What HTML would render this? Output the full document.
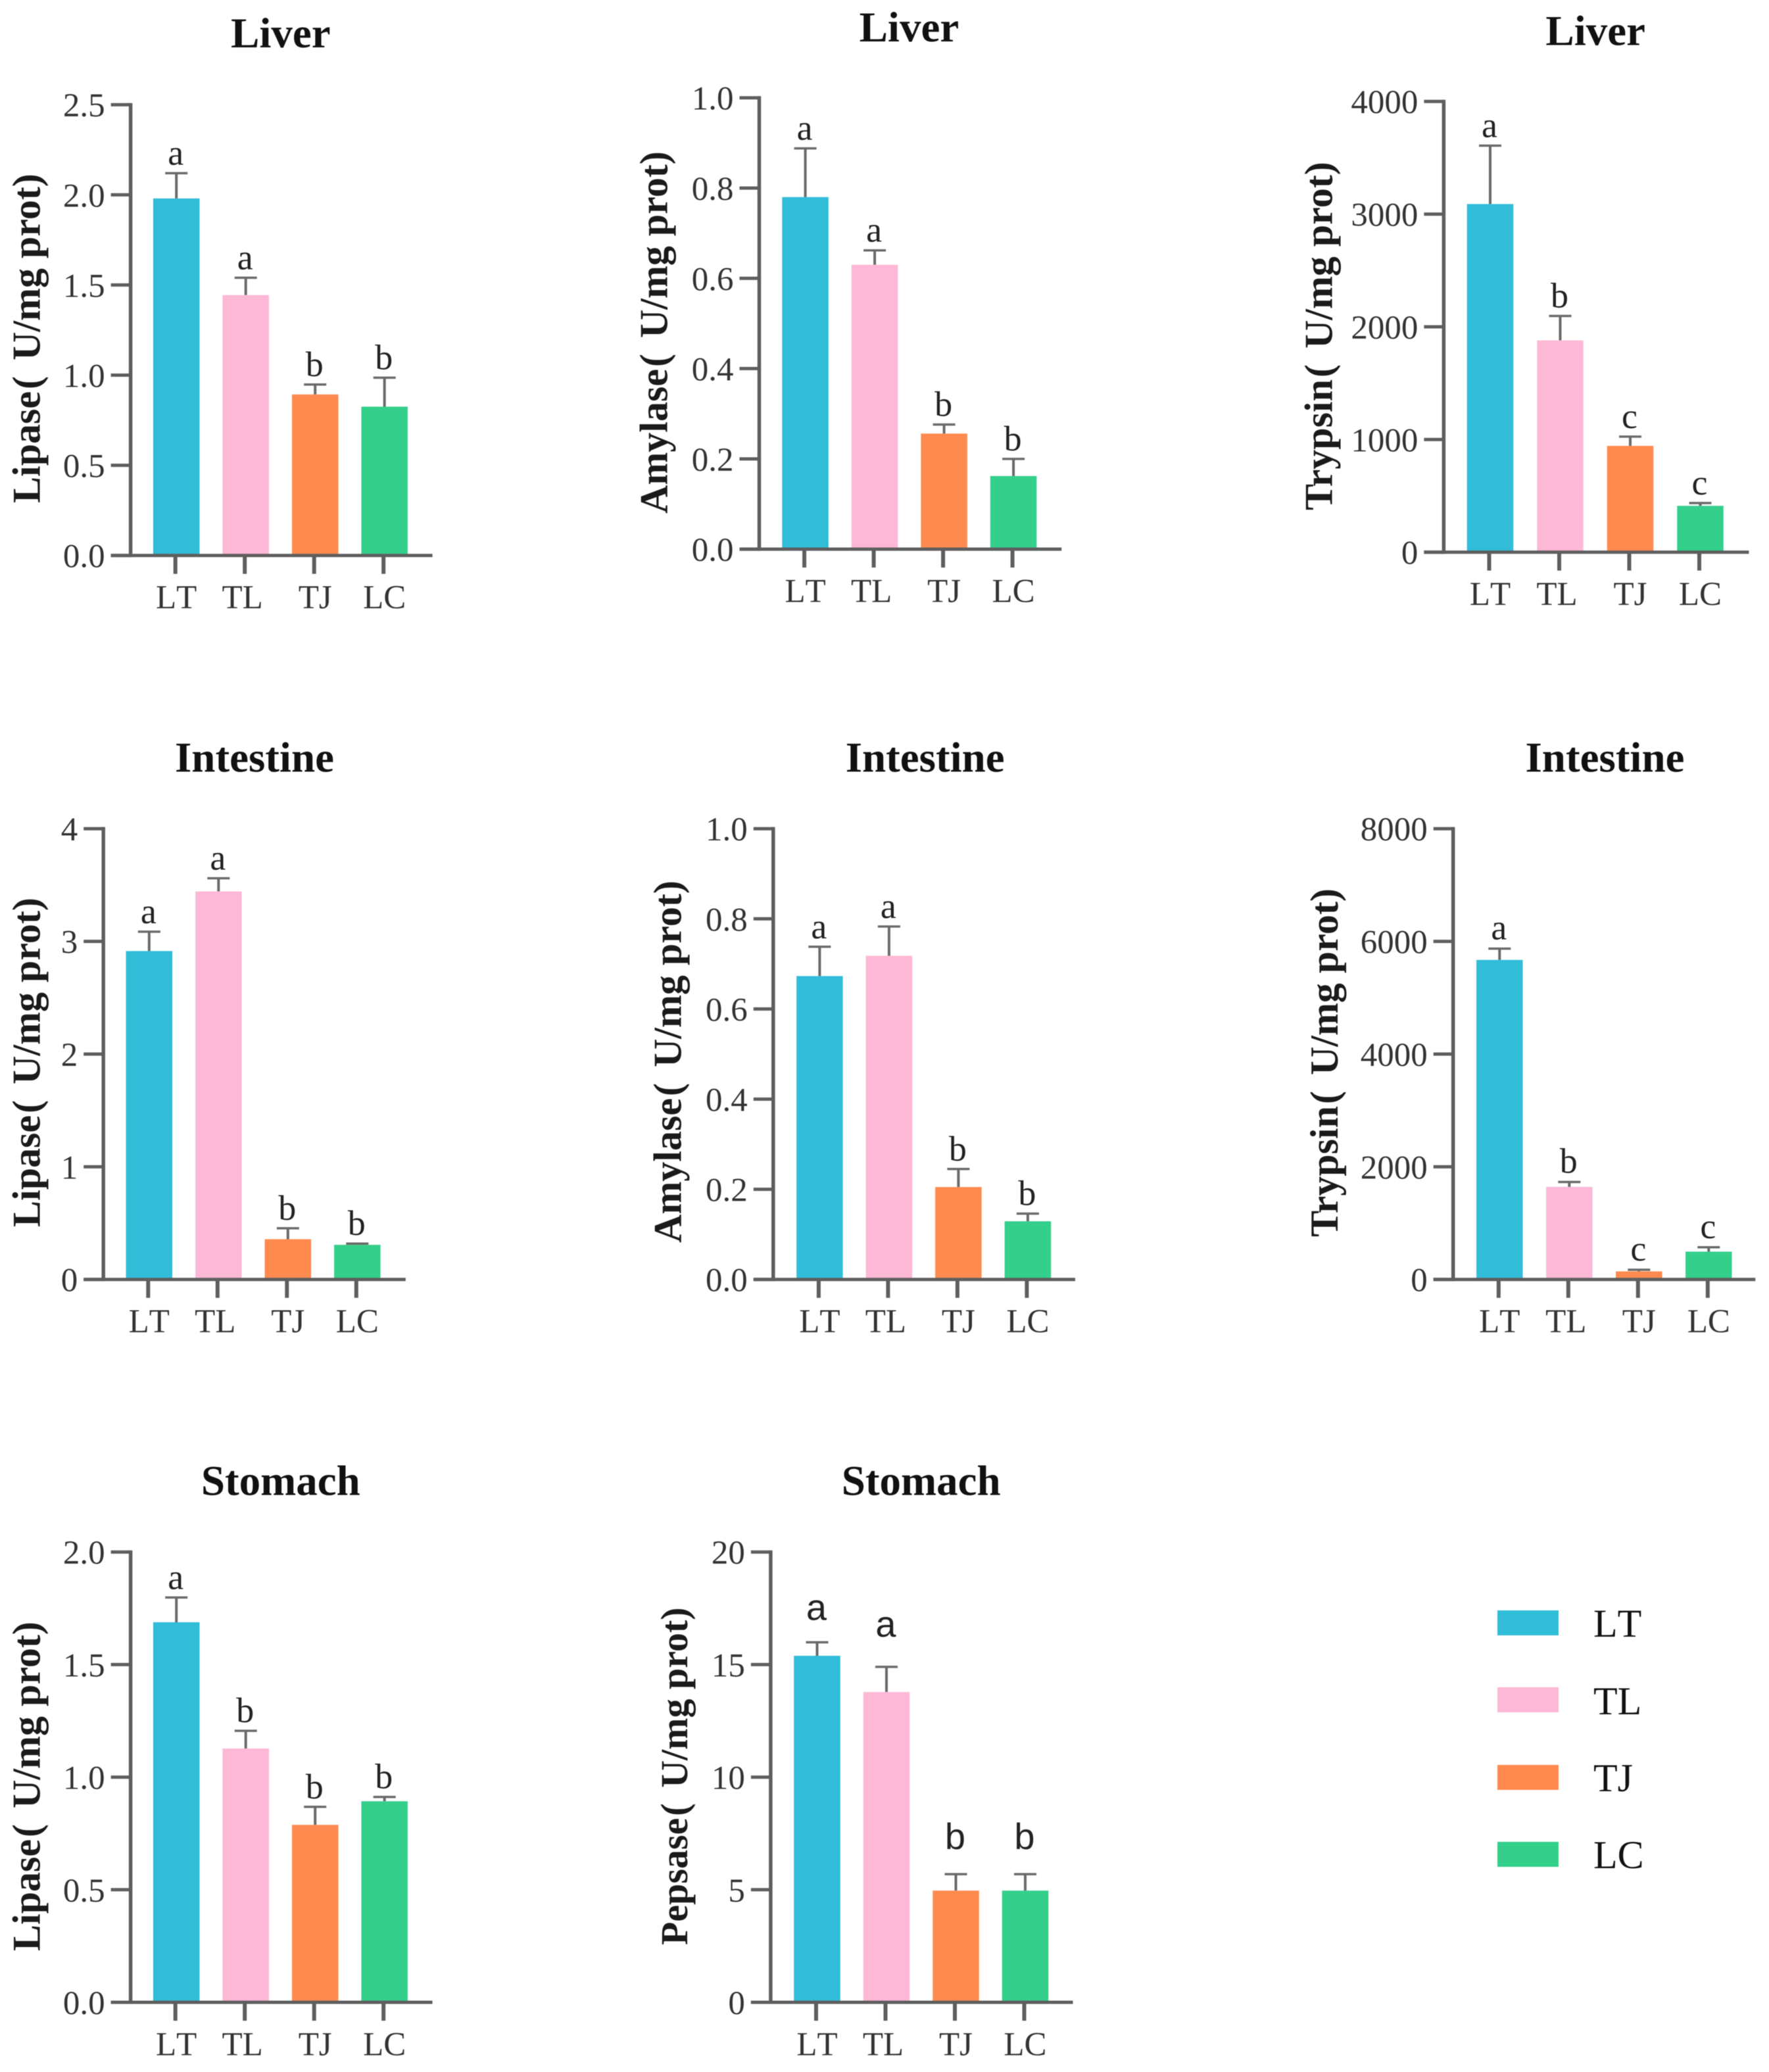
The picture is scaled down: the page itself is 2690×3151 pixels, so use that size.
<!DOCTYPE html>
<html lang="en">
<head>
<meta charset="utf-8">
<title>Digestive enzyme activity by tissue</title>
<style>
html,body{margin:0;padding:0;background:#fff;width:2690px;height:3151px;overflow:hidden}
svg{display:block;filter:blur(0.6px)}
text{font-family:"Liberation Serif",serif;fill:#222}
.tick-label{font-size:51px;fill:#333}
.cat-label{font-size:51px;fill:#333;font-kerning:none}
.panel-title{font-size:65px;font-weight:bold;fill:#111}
.y-title{font-size:60px;font-weight:bold;fill:#1a1a1a}
.y-title-narrow{font-size:58px;font-weight:bold;fill:#1a1a1a}
.sig{font-size:54px;fill:#222}
.sig-sans{font-family:"Liberation Sans",sans-serif;font-size:56px;fill:#222}
.legend-label{font-size:60px;fill:#111;font-kerning:none}
</style>
</head>
<body>
<svg id="figure" xmlns="http://www.w3.org/2000/svg" width="2690" height="3151" viewBox="0 0 2690 3151">
  <rect x="0" y="0" width="2690" height="3151" fill="#ffffff"/>
  <g>
    <g>
      <rect x="2277" y="2449" width="93" height="38" fill="#31bcd8"/>
      <text class="legend-label" x="2423" y="2489">LT</text>
    </g>
    <g>
      <rect x="2277" y="2566" width="93" height="38" fill="#fdb8d5"/>
      <text class="legend-label" x="2423" y="2607">TL</text>
    </g>
    <g>
      <rect x="2277" y="2684" width="93" height="38" fill="#ff8a50"/>
      <text class="legend-label" x="2423" y="2724">TJ</text>
    </g>
    <g>
      <rect x="2277" y="2801" width="93" height="38" fill="#34cf8a"/>
      <text class="legend-label" x="2423" y="2841">LC</text>
    </g>
  </g>
</svg>
<script>
// Shared categories
const categories = ["LT", "TL", "TJ", "LC"];

// Tick labels
const ticksLiverLipase = ["0.0", "0.5", "1.0", "1.5", "2.0", "2.5"];
const ticksAmylase = ["0.0", "0.2", "0.4", "0.6", "0.8", "1.0"];
const ticksLiverTrypsin = ["0", "1000", "2000", "3000", "4000"];
const ticksIntestineLipase = ["0", "1", "2", "3", "4"];
const ticksIntestineTrypsin = ["0", "2000", "4000", "6000", "8000"];
const ticksStomachLipase = ["0.0", "0.5", "1.0", "1.5", "2.0"];
const ticksPepsase = ["0", "5", "10", "15", "20"];

// Bar means and error-bar upper ends
const liverLipaseMeans = [1.98, 1.444, 0.893, 0.825];
const liverLipaseUpper = [2.12, 1.54, 0.948, 0.986];
const liverLipaseLetters = ["a", "a", "b", "b"];

const liverAmylaseMeans = [0.78, 0.63, 0.256, 0.162];
const liverAmylaseUpper = [0.888, 0.662, 0.276, 0.2];
const liverAmylaseLetters = ["a", "a", "b", "b"];

const liverTrypsinMeans = [3089, 1879, 943, 411];
const liverTrypsinUpper = [3607, 2096, 1025, 436];
const liverTrypsinLetters = ["a", "b", "c", "c"];

const intestineLipaseMeans = [2.914, 3.443, 0.357, 0.307];
const intestineLipaseUpper = [3.086, 3.56, 0.454, 0.318];
const intestineLipaseLetters = ["a", "a", "b", "b"];

const intestineAmylaseMeans = [0.673, 0.718, 0.205, 0.129];
const intestineAmylaseUpper = [0.738, 0.783, 0.245, 0.146];
const intestineAmylaseLetters = ["a", "a", "b", "b"];

const intestineTrypsinMeans = [5671, 1643, 143, 493];
const intestineTrypsinUpper = [5871, 1729, 171, 571];
const intestineTrypsinLetters = ["a", "b", "c", "c"];

const stomachLipaseMeans = [1.688, 1.127, 0.788, 0.893];
const stomachLipaseUpper = [1.798, 1.206, 0.868, 0.912];
const stomachLipaseLetters = ["a", "b", "b", "b"];

const stomachPepsaseMeans = [15.39, 13.78, 4.96, 4.96];
const stomachPepsaseUpper = [15.99, 14.9, 5.69, 5.69];
const stomachPepsaseLetters = ["a", "a", "b", "b"];

const NS = "http://www.w3.org/2000/svg";
const figure = document.getElementById("figure");
const barColors = { LT: "#31bcd8", TL: "#fdb8d5", TJ: "#ff8a50", LC: "#34cf8a" };
const axisColor = "#5e5e5e";
const errColor = "#6a6a6a";

function line(parent, x1, y1, x2, y2, color, width) {
  const l = document.createElementNS(NS, "line");
  l.setAttribute("x1", x1);
  l.setAttribute("y1", y1);
  l.setAttribute("x2", x2);
  l.setAttribute("y2", y2);
  l.setAttribute("stroke", color);
  l.setAttribute("stroke-width", width);
  parent.appendChild(l);
  return l;
}

function label(parent, x, y, str, cls, anchor) {
  const t = document.createElementNS(NS, "text");
  t.setAttribute("x", x);
  t.setAttribute("y", y);
  t.setAttribute("class", cls);
  t.setAttribute("text-anchor", anchor);
  t.textContent = str;
  parent.appendChild(t);
  return t;
}

function drawPanel(name, title, enzyme, ticks, means, upper, letters, layout) {
  const g = document.createElementNS(NS, "g");
  
  
  figure.appendChild(g);

  const yMax = parseFloat(ticks[ticks.length - 1]);
  const yScale = v => layout.bottom - (v / yMax) * (layout.bottom - layout.top);
  const xScale = i => layout.axisX + layout.offset + layout.step * i;
  const gapFor = i => Array.isArray(layout.letterGap) ? layout.letterGap[i] : layout.letterGap;

  const titleEl = label(g, layout.titleX, layout.titleY, title, "panel-title", "middle");
  
  

  const yt = document.createElementNS(NS, "text");
  yt.setAttribute("class", layout.yTitleClass || "y-title");
  yt.setAttribute("transform", "translate(" + layout.yTitleX + " " + layout.yTitleY + ") rotate(-90)");
  yt.setAttribute("x", 0);
  yt.setAttribute("y", 0);
  
  
  const partA = document.createElementNS(NS, "tspan");
  partA.textContent = enzyme;
  const partB = document.createElementNS(NS, "tspan");
  partB.setAttribute("dx", 3);
  partB.textContent = "(";
  const partC = document.createElementNS(NS, "tspan");
  partC.setAttribute("dx", 9);
  partC.textContent = "\u00a0U/mg prot)";
  yt.appendChild(partA);
  yt.appendChild(partB);
  yt.appendChild(partC);
  g.appendChild(yt);

  categories.forEach((cat, i) => {
    const cx = xScale(i);
    const top = yScale(means[i]);
    const errTop = yScale(upper[i]);

    const stem = line(g, cx, top, cx, errTop, errColor, 4);
    
    
    const cap = line(g, cx - 17, errTop, cx + 17, errTop, errColor, 3.5);
    
    

    const bar = document.createElementNS(NS, "rect");
    bar.setAttribute("x", cx - 35.25);
    bar.setAttribute("y", top);
    bar.setAttribute("width", 70.5);
    bar.setAttribute("height", layout.bottom - top);
    bar.setAttribute("fill", barColors[cat]);
    
    
    g.appendChild(bar);

    const sig = label(g, cx - 1, errTop - gapFor(i), letters[i], layout.letterClass, "middle");
    
    

    const tick = line(g, cx - 1.5, layout.bottom, cx - 1.5, layout.bottom + 28, axisColor, 6);
    
    

    const nudge = cat === "TL" ? -5 : 0;
    const cl = label(g, cx + nudge, layout.bottom + 80.5, cat, "cat-label", "middle");
    
    
  });

  ticks.forEach(tickStr => {
    const y = yScale(parseFloat(tickStr));
    const tm = line(g, layout.axisX - 30, y, layout.axisX, y, axisColor, 5);
    
    
    const tl = label(g, layout.axisX - 39, y + 18, tickStr, "tick-label", "end");
    
    
  });

  const yAxis = line(g, layout.axisX, layout.top - 2.5, layout.axisX, layout.bottom + 2.5, axisColor, 5.5);
  
  
  const xAxis = line(g, layout.axisX - 30, layout.bottom, layout.axisEnd, layout.bottom, axisColor, 5);
  
  
}

drawPanel("liver-lipase-chart", "Liver", "Lipase", ticksLiverLipase, liverLipaseMeans, liverLipaseUpper, liverLipaseLetters,
  { axisX: 198.6, axisEnd: 657.6, top: 159.2, bottom: 844.7, offset: 69.6, step: 105.5, titleX: 426.8, titleY: 72.2, yTitleX: 60.3, yTitleY: 765, letterGap: 13, letterClass: "sig" });
drawPanel("liver-amylase-chart", "Liver", "Amylase", ticksAmylase, liverAmylaseMeans, liverAmylaseUpper, liverAmylaseLetters,
  { axisX: 1154.5, axisEnd: 1614.2, top: 148.7, bottom: 835.1, offset: 70.1, step: 105.5, titleX: 1382.4, titleY: 63.1, yTitleX: 1014.7, yTitleY: 781, letterGap: 13, letterClass: "sig" });
drawPanel("liver-trypsin-chart", "Liver", "Trypsin", ticksLiverTrypsin, liverTrypsinMeans, liverTrypsinUpper, liverTrypsinLetters,
  { axisX: 2195.4, axisEnd: 2659.4, top: 154.2, bottom: 839.7, offset: 70.6, step: 106.5, titleX: 2426.2, titleY: 68.6, yTitleX: 2025.6, yTitleY: 776, letterGap: 13, letterClass: "sig" });
drawPanel("intestine-lipase-chart", "Intestine", "Lipase", ticksIntestineLipase, intestineLipaseMeans, intestineLipaseUpper, intestineLipaseLetters,
  { axisX: 157.2, axisEnd: 616.8, top: 1260.2, bottom: 1945.7, offset: 69.6, step: 105.5, titleX: 387, titleY: 1173.6, yTitleX: 60.3, yTitleY: 1866, letterGap: 13, letterClass: "sig" });
drawPanel("intestine-amylase-chart", "Intestine", "Amylase", ticksAmylase, intestineAmylaseMeans, intestineAmylaseUpper, intestineAmylaseLetters,
  { axisX: 1175.8, axisEnd: 1635, top: 1260.2, bottom: 1945.7, offset: 70.6, step: 105.5, titleX: 1406.7, titleY: 1173.6, yTitleX: 1035.6, yTitleY: 1890, letterGap: 13, letterClass: "sig" });
drawPanel("intestine-trypsin-chart", "Intestine", "Trypsin", ticksIntestineTrypsin, intestineTrypsinMeans, intestineTrypsinUpper, intestineTrypsinLetters,
  { axisX: 2209.7, axisEnd: 2669.3, top: 1260.2, bottom: 1945.7, offset: 70.6, step: 106, titleX: 2440.5, titleY: 1173.6, yTitleX: 2034, yTitleY: 1881, letterGap: 14, letterClass: "sig" });
drawPanel("stomach-lipase-chart", "Stomach", "Lipase", ticksStomachLipase, stomachLipaseMeans, stomachLipaseUpper, stomachLipaseLetters,
  { axisX: 198.6, axisEnd: 657.6, top: 2360.2, bottom: 3045, offset: 69.6, step: 105.5, titleX: 426.8, titleY: 2273.6, yTitleX: 60.3, yTitleY: 2967, letterGap: 13, letterClass: "sig" });
drawPanel("stomach-pepsase-chart", "Stomach", "Pepsase", ticksPepsase, stomachPepsaseMeans, stomachPepsaseUpper, stomachPepsaseLetters,
  { axisX: 1171.9, axisEnd: 1631.5, top: 2360.2, bottom: 3045, offset: 70.6, step: 105.5, titleX: 1400.7, titleY: 2273.6, yTitleX: 1045.1, yTitleY: 2958, letterGap: [34, 46, 38, 38], letterClass: "sig-sans", yTitleClass: "y-title-narrow" });
</script>
</body>
</html>
